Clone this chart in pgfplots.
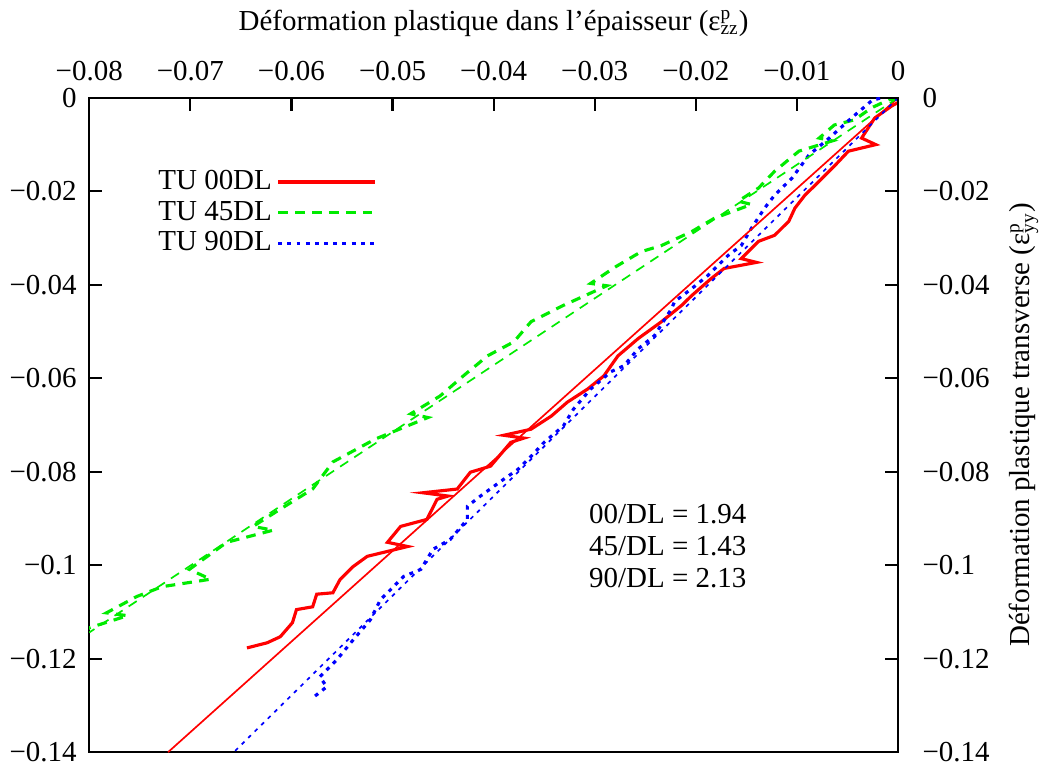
\documentclass[border=0pt]{standalone}
\usepackage{fontspec}
\setmainfont{Liberation Serif}
\usepackage{pgfplots}
\pgfplotsset{compat=1.18}

\definecolor{gred}{RGB}{255,0,0}
\definecolor{ggreen}{RGB}{0,235,0}
\definecolor{gblue}{RGB}{0,0,255}

\begin{document}
\fontsize{12}{14}\selectfont
\begin{tikzpicture}
\pgfplotsset{
  every axis/.append style={
    width=335pt, height=271pt, scale only axis,
    xmin=-0.08, xmax=0, ymin=-0.14, ymax=0,
    scaled ticks=false,
    tick align=inside, major tick length=5.4pt,
    axis line style={line width=0.9pt}, every tick/.style={line width=0.9pt, black},
    ytick={-0.14,-0.12,-0.1,-0.08,-0.06,-0.04,-0.02,0},
    yticklabels={−0.14,−0.12,−0.1,−0.08,−0.06,−0.04,−0.02,0},
  },
}
\begin{axis}[
  xtick={-0.08,-0.07,-0.06,-0.05,-0.04,-0.03,-0.02,-0.01,0},
  xticklabels={−0.08,−0.07,−0.06,−0.05,−0.04,−0.03,−0.02,−0.01,0},
  xtick pos=right, xticklabel pos=right,
  xticklabel style={yshift=3pt},
  ytick pos=left, yticklabel pos=left,
  yticklabel style={xshift=-1pt},
  xlabel={Déformation plastique dans l’épaisseur (ε\rlap{\textsuperscript{p}}\textsubscript{zz})},
  xlabel style={yshift=2pt},
  legend style={draw=none, fill=none, at={(0.07,0.905)}, anchor=north west,
    row sep=-1pt, font=\fontsize{12}{14}\selectfont},
  legend plot pos=right, legend cell align=right,
  legend image code/.code={\draw[#1] (0pt,0pt) -- (40pt,0pt);},
]
% donnees TU 00DL
\addplot[gred, line width=1.3pt] coordinates {
(0,-0.0010) (-0.0006,-0.0017) (-0.0023,-0.0043) (-0.0036,-0.0086) (-0.0022,-0.0100)
(-0.0049,-0.0114) (-0.0063,-0.0146) (-0.0082,-0.0187) (-0.0092,-0.0208)
(-0.0102,-0.0236) (-0.0108,-0.0264) (-0.0122,-0.0294) (-0.0138,-0.0307)
(-0.0155,-0.0344) (-0.0140,-0.0352) (-0.0172,-0.0365) (-0.0185,-0.0387)
(-0.0204,-0.0423) (-0.0214,-0.0444) (-0.0234,-0.0479) (-0.0257,-0.0515)
(-0.0277,-0.0552) (-0.0291,-0.0595) (-0.0307,-0.0623) (-0.0327,-0.0651)
(-0.0343,-0.0681) (-0.0363,-0.0709) (-0.0390,-0.0722) (-0.0370,-0.0728)
(-0.0383,-0.0737) (-0.0403,-0.0788) (-0.0423,-0.0801) (-0.0436,-0.0837)
(-0.0470,-0.0845) (-0.0445,-0.0852) (-0.0456,-0.0859) (-0.0466,-0.0902)
(-0.0492,-0.0917) (-0.0505,-0.0951) (-0.0485,-0.0960) (-0.0525,-0.0981)
(-0.0539,-0.1003) (-0.0552,-0.1031) (-0.0559,-0.1059) (-0.0575,-0.1062)
(-0.0579,-0.1089) (-0.0595,-0.1095) (-0.0599,-0.1123) (-0.0611,-0.1153)
(-0.0624,-0.1166) (-0.0644,-0.1177)
};
\addlegendentry{TU 00DL}
% donnees TU 45DL
\addplot[ggreen, line width=1.3pt, dash pattern=on 4pt off 3pt] coordinates {
(0,-0.0002) (-0.0009,-0.0004) (-0.0026,-0.0021) (-0.0043,-0.0047) (-0.0063,-0.0058)
(-0.0078,-0.0086) (-0.0065,-0.0092) (-0.0098,-0.0114) (-0.0122,-0.0157)
(-0.0138,-0.0193) (-0.0158,-0.0221) (-0.0145,-0.0228) (-0.0182,-0.0258)
(-0.0204,-0.0286) (-0.0234,-0.0316) (-0.0254,-0.0329) (-0.0279,-0.0361)
(-0.0304,-0.0397) (-0.0288,-0.0402) (-0.0331,-0.0444) (-0.0363,-0.0479)
(-0.0380,-0.0522) (-0.0406,-0.0552) (-0.0430,-0.0595) (-0.0453,-0.0638)
(-0.0482,-0.0676) (-0.0465,-0.0684) (-0.0517,-0.0730) (-0.0559,-0.0779)
(-0.0579,-0.0837) (-0.0611,-0.0880) (-0.0638,-0.0917) (-0.0618,-0.0925)
(-0.0664,-0.0951) (-0.0701,-0.1009) (-0.0680,-0.1030) (-0.0728,-0.1046)
(-0.0753,-0.1067) (-0.0783,-0.1102) (-0.0762,-0.1108) (-0.0800,-0.1134)
(-0.0805,-0.1142)
};
\addlegendentry{TU 45DL}
% donnees TU 90DL
\addplot[gblue, line width=1.3pt, dash pattern=on 1.6pt off 2.2pt] coordinates {
(0,0.0004) (-0.0011,0.0004) (-0.0026,-0.0006) (-0.0046,-0.0043) (-0.0068,-0.0086)
(-0.0088,-0.0122) (-0.0105,-0.0172) (-0.0122,-0.0208) (-0.0132,-0.0236)
(-0.0145,-0.0279) (-0.0155,-0.0316) (-0.0168,-0.0337) (-0.0188,-0.0380)
(-0.0204,-0.0408) (-0.0221,-0.0436) (-0.0224,-0.0451) (-0.0241,-0.0509)
(-0.0257,-0.0537) (-0.0271,-0.0573) (-0.0284,-0.0586) (-0.0304,-0.0623)
(-0.0321,-0.0666) (-0.0331,-0.0702) (-0.0350,-0.0737) (-0.0363,-0.0767)
(-0.0376,-0.0795) (-0.0390,-0.0816) (-0.0413,-0.0852) (-0.0426,-0.0874)
(-0.0426,-0.0902) (-0.0443,-0.0945) (-0.0460,-0.0966) (-0.0472,-0.1009)
(-0.0489,-0.1024) (-0.0499,-0.1046) (-0.0512,-0.1074) (-0.0522,-0.1117)
(-0.0539,-0.1160) (-0.0555,-0.1202) (-0.0572,-0.1239) (-0.0565,-0.1260)
(-0.0579,-0.1284)
};
\addlegendentry{TU 90DL}
% droites de pente 1.94, 1.43, 2.13
\addplot[gred, line width=0.7pt, forget plot] coordinates {(0,0) (-0.0722,-0.14)};
\addplot[ggreen, line width=0.7pt, dash pattern=on 4pt off 3pt, forget plot] coordinates {(0,0) (-0.08,-0.1144)};
\addplot[gblue, line width=0.7pt, dash pattern=on 1.6pt off 2.2pt, forget plot] coordinates {(0,0) (-0.0657,-0.14)};
\node[anchor=north west, align=left, inner sep=0pt, font=\fontsize{12}{13.2}\selectfont]
  at (axis cs:-0.0306,-0.0868) {00/DL = 1.94\\45/DL = 1.43\\90/DL = 2.13};
\end{axis}
\begin{axis}[
  axis x line=none, axis y line*=right,
  ytick pos=right, yticklabel pos=right,
  yticklabel style={xshift=6pt},
  ylabel={Déformation plastique transverse (ε\rlap{\textsuperscript{p}}\textsubscript{yy})},
]
\end{axis}
\end{tikzpicture}
\end{document}
